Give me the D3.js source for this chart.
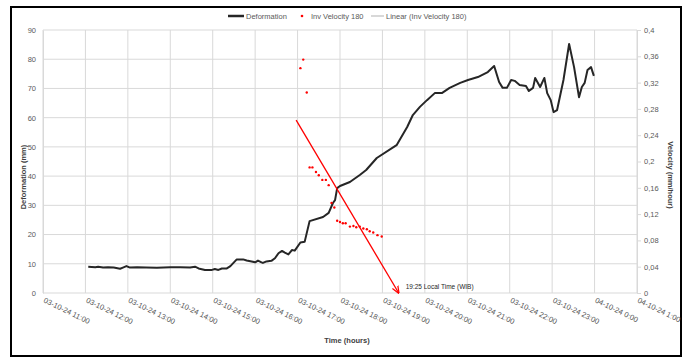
<!DOCTYPE html>
<html>
<head>
<meta charset="utf-8">
<script src="https://cdn.jsdelivr.net/npm/d3@7"></script>
<style>
  body { margin: 0; background: #fff; }
  svg { display: block; font-family: "Liberation Sans Narrow", "Liberation Sans", Arial, sans-serif; }
</style>
</head>
<body>
<svg width="688" height="358"></svg>
<script>
// data (times on 03-10-24)
const defTimes = ["12:04","12:14","12:18","12:25","12:32","12:40","12:49","12:53","12:58","13:03",
  "13:13","13:26","13:41","14:00","14:14","14:28","14:35","14:40","14:49","14:59",
  "15:03","15:08","15:13","15:20","15:25","15:34","15:43","15:48","15:55","16:00",
  "16:04","16:09","16:11","16:16","16:23","16:28","16:33","16:38","16:42","16:47",
  "16:52","16:56","17:04","17:10","17:17","17:36","17:44","17:50","17:53","17:56",
  "18:00","18:14","18:28","18:37","18:52","19:20","19:35","19:43","19:53","20:03",
  "20:14","20:24","20:35","20:50","21:01","21:15","21:29","21:38","21:45","21:50",
  "21:56","22:02","22:07","22:14","22:23","22:27","22:33","22:36","22:43","22:49",
  "22:53","22:58","23:02","23:07","23:16","23:24","23:31","23:38","23:42","23:46",
  "23:50","23:55","23:59"];
const defValues = [9.0,8.8,9.0,8.7,8.8,8.7,8.3,8.7,9.2,8.7,
  8.8,8.7,8.6,8.8,8.8,8.7,9.0,8.4,7.9,7.9,
  8.2,7.9,8.4,8.4,9.2,11.5,11.5,11.1,10.8,10.5,
  11.1,10.5,10.3,10.8,11.0,11.9,13.6,14.4,13.8,13.2,
  14.7,14.5,17.3,17.5,24.6,26.0,27.4,30.8,31.8,35.9,
  36.6,38.0,40.4,42.1,46.2,50.6,56.8,60.9,63.7,66.0,
  68.4,68.4,70.2,71.9,72.9,73.9,75.6,77.7,72.2,70.2,
  70.2,72.9,72.6,71.2,70.8,69.1,70.2,73.6,70.5,73.6,
  68.4,66.0,61.9,62.6,72.9,85.2,77.3,67.0,70.5,71.9,
  76.3,77.3,74.3];

const velTimes = ["17:04","17:08","17:13","17:17","17:21","17:26","17:30","17:35","17:40","17:44",
  "17:48","17:52","17:56","18:00","18:04","18:08","18:14","18:19","18:23","18:28",
  "18:33","18:38","18:42","18:47","18:53","18:59"];
const velValues = [0.342,0.355,0.305,0.191,0.191,0.184,0.179,0.172,0.172,0.164,
  0.137,0.130,0.110,0.108,0.106,0.106,0.101,0.102,0.100,0.101,
  0.098,0.097,0.094,0.092,0.088,0.086];

// arrow drawn to the zero crossing
const trendTimes = ["16:58","19:23"];
const trendValues = [0.263, 0.0];

const leftTicks = [0,10,20,30,40,50,60,70,80,90];
const rightTicks = [0,0.04,0.08,0.12,0.16,0.2,0.24,0.28,0.32,0.36,0.4];

const parse = d3.timeParse("%Y-%m-%d %H:%M");
const day = t => parse("2024-10-03 " + t);

const svg = d3.select("svg");

// outer frame
svg.append("rect")
  .attr("x", 11).attr("y", 7)
  .attr("width", 670).attr("height", 349)
  .attr("fill", "white")
  .attr("stroke", "black")
  .attr("stroke-width", 2);

const x = d3.scaleTime()
  .domain([parse("2024-10-03 11:00"), parse("2024-10-04 01:00")])
  .range([43, 637]);
const y = d3.scaleLinear().domain([0, 90]).range([293, 30]);
const y2 = d3.scaleLinear().domain([0, 0.4]).range([293, 30]);

// grid
const hours = x.ticks(d3.timeHour.every(1));
svg.append("g").selectAll("line").data(leftTicks).join("line")
  .attr("x1", 43).attr("x2", 637)
  .attr("y1", d => y(d)).attr("y2", d => y(d))
  .attr("stroke", "#d9d9d9").attr("stroke-width", 1);
svg.append("g").selectAll("line").data(hours).join("line")
  .attr("x1", d => x(d)).attr("x2", d => x(d))
  .attr("y1", 30).attr("y2", 293)
  .attr("stroke", "#d9d9d9").attr("stroke-width", 1);

// left axis
const yAxis = svg.append("g")
  .attr("transform", "translate(43,0)")
  .call(d3.axisLeft(y).tickValues(leftTicks).tickSize(0).tickPadding(7));
yAxis.select(".domain").attr("stroke", "#d9d9d9");
yAxis.selectAll("text").attr("fill", "#595959").attr("font-size", 7.5);

// right axis
const y2Axis = svg.append("g")
  .attr("transform", "translate(637,0)")
  .call(d3.axisRight(y2).tickValues(rightTicks).tickSize(4).tickPadding(3)
    .tickFormat(d => String(+d.toFixed(2)).replace(".", ",")));
y2Axis.select(".domain").attr("stroke", "#d9d9d9");
y2Axis.selectAll(".tick line").attr("stroke", "#d9d9d9");
y2Axis.selectAll("text").attr("fill", "#595959").attr("font-size", 7.5);

// x axis labels, slanted
const fmt = d3.timeFormat("%d-%m-%y %-H:%M");
svg.append("g").selectAll("text").data(hours).join("text")
  .attr("transform", d => `translate(${x(d)},302) rotate(26)`)
  .attr("fill", "#595959")
  .attr("font-size", 7.5)
  .text(d => fmt(d));

// deformation line
const defData = defTimes.map((t, i) => [day(t), defValues[i]]);
svg.append("path")
  .datum(defData)
  .attr("fill", "none")
  .attr("stroke", "#262626")
  .attr("stroke-width", 2)
  .attr("stroke-linejoin", "round")
  .attr("d", d3.line().x(d => x(d[0])).y(d => y(d[1])));

// inverse velocity points
svg.append("g").selectAll("circle")
  .data(velTimes.map((t, i) => [day(t), velValues[i]]))
  .join("circle")
  .attr("cx", d => x(d[0])).attr("cy", d => y2(d[1]))
  .attr("r", 1.2)
  .attr("fill", "#ff0000");

// red arrow
svg.append("defs").append("marker")
  .attr("id", "arrow")
  .attr("viewBox", "0 -5 10 10")
  .attr("refX", 9).attr("refY", 0)
  .attr("markerWidth", 6).attr("markerHeight", 6)
  .attr("orient", "auto")
  .append("path")
  .attr("d", "M0,-4L10,0L0,4")
  .attr("fill", "none")
  .attr("stroke", "#ff0000")
  .attr("stroke-width", 1.6);

const tr = trendTimes.map((t, i) => [day(t), trendValues[i]]);
svg.append("line")
  .attr("x1", x(tr[0][0])).attr("y1", y2(tr[0][1]))
  .attr("x2", x(tr[1][0])).attr("y2", y2(tr[1][1]))
  .attr("stroke", "#ff0000")
  .attr("stroke-width", 1.3)
  .attr("marker-end", "url(#arrow)");

svg.append("text")
  .attr("x", x(tr[1][0]) + 7).attr("y", 289)
  .attr("font-size", 6.5)
  .attr("fill", "#262626")
  .text("19:25 Local Time (WIB)");

// axis titles
svg.append("text")
  .attr("transform", "translate(26,177) rotate(-90)")
  .attr("text-anchor", "middle")
  .attr("font-size", 7.5).attr("font-weight", "bold").attr("fill", "#404040")
  .text("Deformation (mm)");
svg.append("text")
  .attr("transform", "translate(668,175) rotate(90)")
  .attr("text-anchor", "middle")
  .attr("font-size", 7.5).attr("font-weight", "bold").attr("fill", "#404040")
  .text("Velocity (mm/hour)");
svg.append("text")
  .attr("x", 347).attr("y", 343)
  .attr("text-anchor", "middle")
  .attr("font-size", 7.5).attr("font-weight", "bold").attr("fill", "#404040")
  .text("Time (hours)");

// legend
const lg = svg.append("g").attr("font-size", 7.5).attr("fill", "#595959");
lg.append("line").attr("x1", 228).attr("x2", 244).attr("y1", 16).attr("y2", 16)
  .attr("stroke", "#262626").attr("stroke-width", 2.5);
lg.append("text").attr("x", 246).attr("y", 18.5).text("Deformation");
lg.append("circle").attr("cx", 302).attr("cy", 16).attr("r", 1.3).attr("fill", "#ff0000");
lg.append("text").attr("x", 311).attr("y", 18.5).text("Inv Velocity 180");
lg.append("line").attr("x1", 371).attr("x2", 384).attr("y1", 16).attr("y2", 16)
  .attr("stroke", "#bfbfbf").attr("stroke-width", 1.2);
lg.append("text").attr("x", 386).attr("y", 18.5).text("Linear (Inv Velocity 180)");
</script>
</body>
</html>
